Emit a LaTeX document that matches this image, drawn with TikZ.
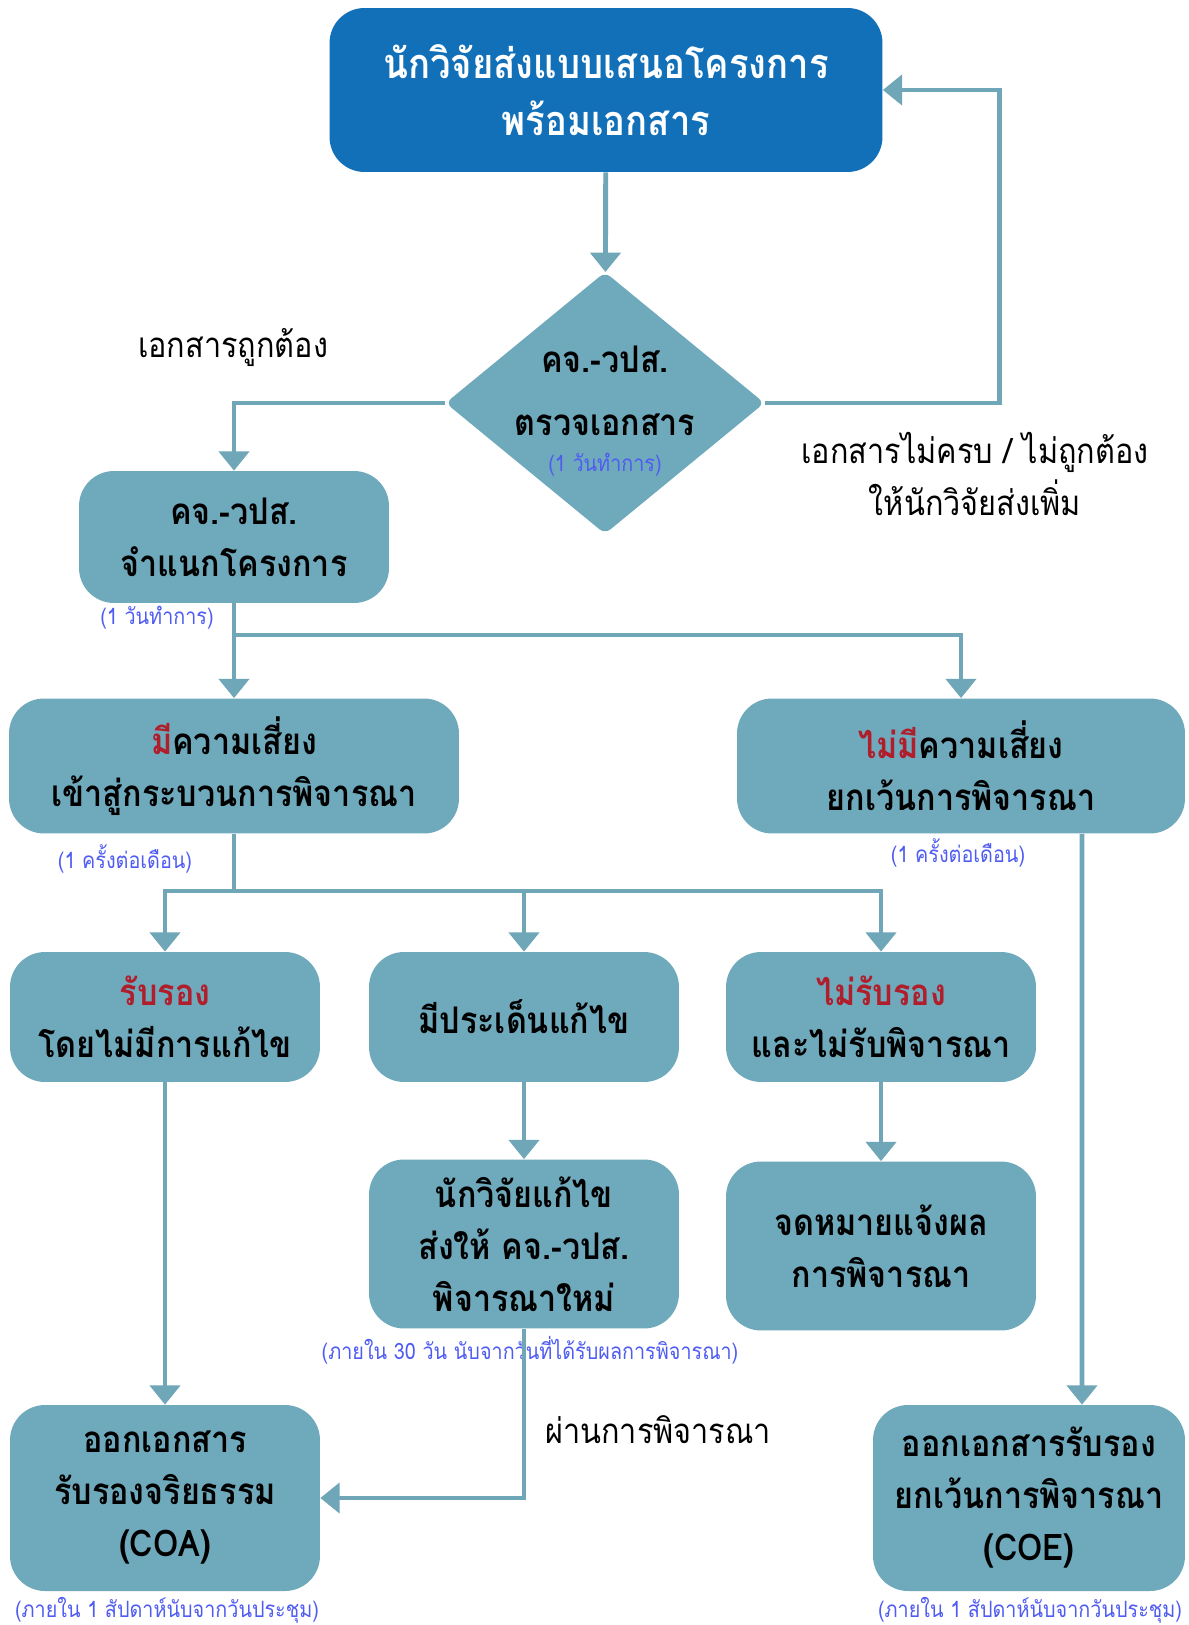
\documentclass[tikz,border=0pt]{standalone}
\usepackage{fontspec}
\setmainfont[Script=Thai,FakeStretch=0.88]{Loma}
\usetikzlibrary{shapes.geometric,arrows.meta}
\definecolor{topblue}{HTML}{1170B8}
\definecolor{boxfill}{HTML}{6FA9BC}
\definecolor{linecol}{HTML}{6FA6B8}
\definecolor{noteblue}{HTML}{4F5CF2}
\definecolor{riskred}{HTML}{B01E2C}

\begin{document}
\begin{tikzpicture}[x=0.02cm,y=-0.02cm,
  box/.style={fill=boxfill,rounded corners=0.7cm,align=center,inner sep=0pt,
    minimum width=6.2cm,font=\fontsize{20.9}{29.6}\selectfont\bfseries},
  topbox/.style={box,fill=topblue,text=white,minimum width=11.06cm,minimum height=3.28cm,
    font=\fontsize{23.6}{32.5}\selectfont\bfseries},
  checkbox/.style={diamond,fill=boxfill,rounded corners=4pt,inner sep=0pt,
    minimum width=6.38cm,minimum height=5.24cm},
  checktext/.style={align=center,inner sep=0pt,yshift=7pt,font=\fontsize{20.9}{30}\selectfont\bfseries},
  ln/.style={draw=linecol,line width=2.8pt},
  arr/.style={ln,-{Triangle[width=17pt,length=11pt]}},
  note/.style={text=noteblue,inner sep=0pt,font=\fontsize{12.8}{15}\selectfont},
  lbl/.style={align=center,inner sep=0pt,font=\fontsize{19.8}{29.5}\selectfont}]
\useasboundingbox (0,0) rectangle (1188,1625);
\fill[white] (0,0) rectangle (1188,1625);

% Submission and document check
\node[topbox] (submit) at (606,90) {นักวิจัยส่งแบบเสนอโครงการ\\พร้อมเอกสาร};
\node[checkbox,label={[checktext,name=checklbl]center:คจ.-วปส.\\[6pt]ตรวจเอกสาร}] (check) at (605,403) {};
\node[note] (checkday) at (605,465) {(1 วันทำการ)};
\draw[arr] (submit) -- (check);
\draw[arr] (check.east) -- ++(235,0) |- (submit.east);
\node[lbl] (missing) at (975,474) {เอกสารไม่ครบ / ไม่ถูกต้อง\\ให้นักวิจัยส่งเพิ่ม};
\node[lbl] (correct) at (233,348) {เอกสารถูกต้อง};

% Classification
\node[box,minimum height=2.64cm] (classify) at (234,537) {คจ.-วปส.\\จำแนกโครงการ};
\node[note] (classifyday) at (157,618) {(1 วันทำการ)};
\draw[arr] (check.west) -| (classify.north);

% Risk / no risk
\node[box,minimum width=9cm,minimum height=2.7cm] (risk) at (234,766)
  {{\color{riskred}มี}ความเสี่ยง\\เข้าสู่กระบวนการพิจารณา};
\node[box,minimum width=8.96cm,minimum height=2.7cm] (norisk) at (961,766)
  {{\color{riskred}ไม่มี}ความเสี่ยง\\ยกเว้นการพิจารณา};
\node[note] (riskmonth) at (125,859) {(1 ครั้งต่อเดือน)};
\node[note] (noriskmonth) at (958,853) {(1 ครั้งต่อเดือน)};
\coordinate (split1) at (234,635);
\draw[arr] (classify.south) -- (risk.north);
\draw[arr] (split1) -| (norisk.north);

% Review results
\node[box,minimum height=2.6cm] (accept) at (165,1017) {{\color{riskred}รับรอง}\\โดยไม่มีการแก้ไข};
\node[box,minimum height=2.6cm] (revise) at (524,1017) {มีประเด็นแก้ไข};
\node[box,minimum height=2.6cm] (reject) at (881,1017) {{\color{riskred}ไม่รับรอง}\\และไม่รับพิจารณา};
\coordinate (split2) at (234,891);
\draw[ln] (risk.south) -- (split2);
\draw[arr] (split2) -| (accept.north);
\draw[arr] (split2) -| (revise.north);
\draw[arr] (split2) -| (reject.north);

% Revision and letter
\node[box,minimum height=3.38cm] (fix) at (524,1244) {นักวิจัยแก้ไข\\ส่งให้ คจ.-วปส.\\พิจารณาใหม่};
\node[box,minimum height=3.38cm] (letter) at (881,1246) {จดหมายแจ้งผล\\การพิจารณา};
\node[note] (fixdays) at (530,1350) {(ภายใน 30 วัน นับจากวันที่ได้รับผลการพิจารณา)};
\draw[arr] (revise) -- (fix);
\draw[arr] (reject) -- (letter);

% Certificates
\node[box,minimum height=3.72cm] (coa) at (165,1498) {ออกเอกสาร\\รับรองจริยธรรม\\(COA)};
\node[box,minimum width=6.24cm,minimum height=3.72cm] (coe) at (1029,1498) {ออกเอกสารรับรอง\\ยกเว้นการพิจารณา\\(COE)};
\node[note] (coaweek) at (167,1610) {(ภายใน 1 สัปดาห์นับจากวันประชุม)};
\node[note] (coeweek) at (1030,1610) {(ภายใน 1 สัปดาห์นับจากวันประชุม)};
\draw[arr] (accept) -- (coa);
\draw[arr] (fix.south) |- (coa.east);
\node[lbl] (passed) at (658,1430) {ผ่านการพิจารณา};
\draw[arr] ([xshift=2.42cm]norisk.south) -- ([xshift=1.06cm]coe.north);
\end{tikzpicture}
\end{document}
